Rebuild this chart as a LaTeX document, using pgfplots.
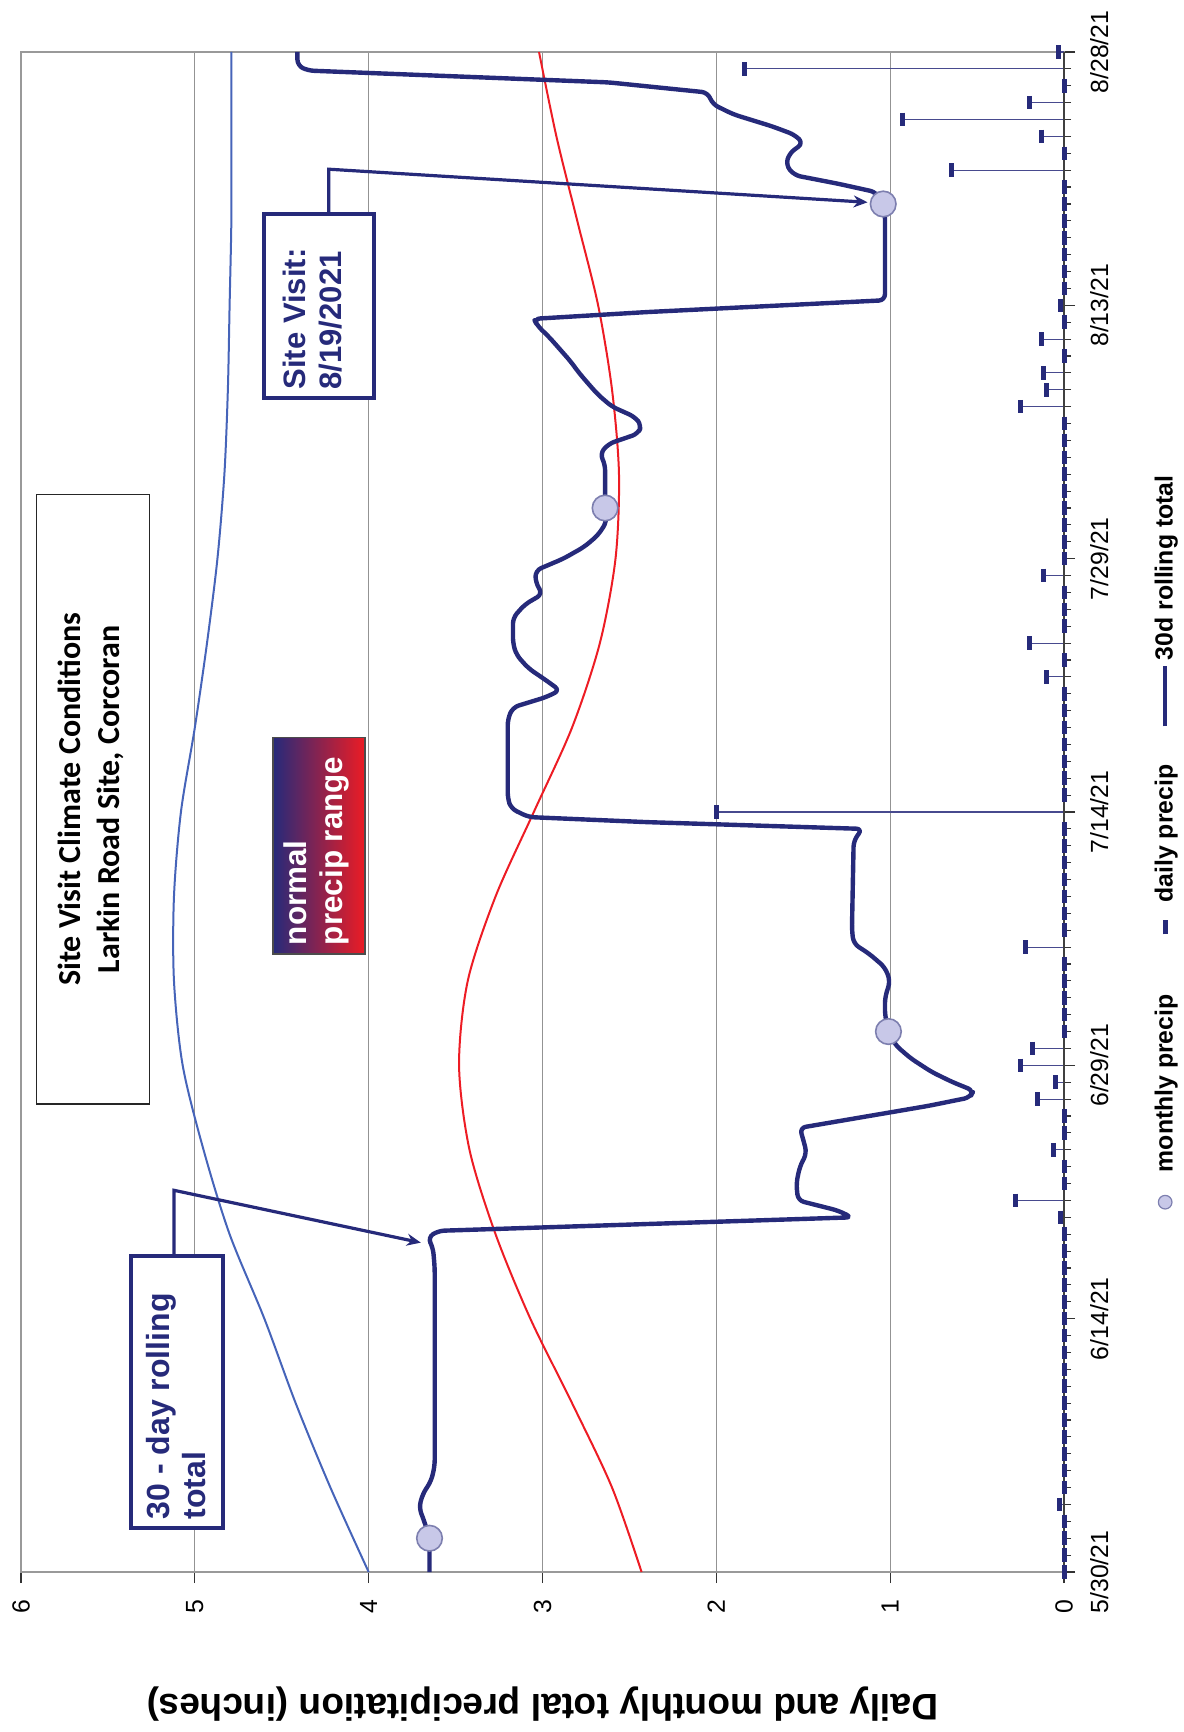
\documentclass[border=0pt]{standalone}
\usepackage{graphicx}
\usepackage{pgfplots}
\pgfplotsset{compat=1.18}
\usepackage{pgfplotstable}
\usetikzlibrary{arrows.meta}
\usepackage{fontspec}
\setmainfont{Liberation Sans}
\newfontfamily\carlito{Carlito}
\definecolor{navy}{RGB}{38,42,122}
\definecolor{redc}{RGB}{237,28,36}
\definecolor{bluec}{RGB}{70,100,185}
\definecolor{circfill}{RGB}{200,200,232}
\pgfplotsset{
  circleg/.style={legend image code/.code={\path[draw=none,fill=none] (0pt,0pt) -- (17pt,0pt);\draw[fill=circfill, draw=navy!60, line width=0.6pt] (4pt,0pt) circle (3.4pt);}},
  dashleg/.style={legend image code/.code={\path[draw=none,fill=none] (0pt,0pt) -- (26pt,0pt);\draw[navy, line width=2.5pt] (12pt,0pt) -- (19pt,0pt);}},
  lineleg/.style={legend image code/.code={\draw[navy, line width=2.2pt] (0pt,0pt) -- (30pt,0pt);}},
}

% daily precipitation (day after 5/30/21, inches)
\pgfplotstableread{
d v
0 0
1 0
2 0
3 0
4 0.025
5 0
6 0
7 0
8 0
9 0
10 0
11 0
12 0
13 0
14 0
15 0
16 0
17 0
18 0
19 0
20 0
21 0.02
22 0.28
23 0
24 0
25 0.06
26 0
27 0
28 0.15
29 0.05
30 0.25
31 0.18
32 0
33 0
34 0
35 0
36 0
37 0.22
38 0
39 0
40 0
41 0
42 0
43 0
44 0
45 2.0
46 0
47 0
48 0
49 0
50 0
51 0
52 0
53 0.10
54 0
55 0.20
56 0
57 0
58 0
59 0.12
60 0
61 0
62 0
63 0
64 0
65 0
66 0
67 0
68 0
69 0.25
70 0.10
71 0.12
72 0
73 0.13
74 0
75 0.02
76 0
77 0
78 0
79 0
80 0
81 0
82 0
83 0.65
84 0
85 0.13
86 0.93
87 0.20
88 0
89 1.84
90 0.03
}\daily

% 30 day rolling total
\pgfplotstableread{
d v
0 3.65
2 3.65
3 3.68
3.8 3.71
4.6 3.69
5.4 3.64
6.3 3.62
18 3.62
19.2 3.63
19.8 3.66
20.2 3.60
21.0 1.22
21.4 1.30
22 1.53
23 1.54
24 1.52
24.8 1.48
25.6 1.50
26.3 1.52
27.6 0.78
28.1 0.54
28.5 0.52
29.0 0.64
29.6 0.76
30.4 0.88
31.2 0.97
32 1.01
33 1.03
34 1.03
35 1.00
35.8 1.03
36.6 1.12
37.2 1.21
38 1.22
43.3 1.21
44.0 1.16
44.4 2.40
44.7 3.08
45.2 3.18
45.8 3.20
50.5 3.20
51.2 3.17
51.8 2.98
52.2 2.90
52.8 2.98
53.5 3.08
54.3 3.15
55 3.17
56.5 3.17
57.3 3.10
57.9 3.00
58.6 3.04
59.3 3.04
60 2.88
60.7 2.76
61.4 2.68
62.2 2.63
62.8 2.64
65.6 2.64
66.2 2.67
66.8 2.62
67.4 2.45
67.9 2.43
68.4 2.47
69 2.60
69.7 2.68
70.4 2.74
71 2.79
71.7 2.84
72.4 2.90
73.1 2.96
73.8 3.03
74.2 3.05
74.6 2.40
75.3 1.03
76 1.03
80.5 1.03
81 1.05
81.7 1.08
82.2 1.30
82.7 1.55
83.3 1.60
84 1.58
84.6 1.50
85.1 1.55
85.6 1.68
86.3 1.90
86.9 2.02
87.6 2.05
88.2 2.62
88.9 4.35
89.2 4.41
90 4.41
}\rolling

\pgfplotstableread{
d v
0 2.43
5 2.60
10 2.83
15 3.07
20 3.27
25 3.42
30 3.48
35 3.43
40 3.27
45 3.05
50 2.83
55 2.67
60 2.58
65 2.56
70 2.60
75 2.68
80 2.80
85 2.92
90 3.02
}\normlow

\pgfplotstableread{
d v
0 4.00
5 4.22
10 4.42
15 4.60
20 4.80
25 4.95
30 5.07
35 5.12
40 5.12
45 5.08
50 5.00
55 4.93
60 4.87
65 4.83
70 4.81
75 4.80
80 4.79
85 4.79
90 4.79
}\normhigh

\pgfplotstableread{
d v
2 3.65
32 1.01
63 2.64
81 1.04
}\monthly

\begin{document}
\rotatebox{90}{%
\begin{tikzpicture}
\begin{axis}[
  at={(0,0)}, anchor=south west,
  scale only axis, width=760pt, height=521.5pt,
  xmin=0, xmax=90, ymin=0, ymax=6,
  clip=false,
  /pgf/number format/assume math mode=true,
  axis line style={draw=gray!80, line width=0.8pt},
  xtick={0,15,30,45,60,75,90},
  xticklabels={5/30/21,6/14/21,6/29/21,7/14/21,7/29/21,8/13/21,8/28/21},
  minor xtick={0,1,...,90},
  ytick={0,1,...,6},
  xtick pos=lower, ytick pos=left,
  tick align=outside,
  major tick length=5.5pt, minor tick length=3.5pt,
  tick style={black!80, line width=0.6pt},
  ymajorgrids, major grid style={gray!85, line width=0.6pt},
  tick label style={font=\fontsize{12.4}{14}\selectfont},
  xticklabel style={yshift=-4pt},
  yticklabel style={xshift=-5pt},
  ylabel={Daily and monthly total precipitation (inches)},
  ylabel style={font=\bfseries\fontsize{18.5}{22}\selectfont, at={(axis description cs:-0.087,0.5)}, anchor=center},
  legend columns=3,
  legend cell align=left,
  legend style={draw=none, fill=none, at={(axis description cs:0.481,-0.097)}, anchor=center,
    font=\bfseries\fontsize{12.4}{14}\selectfont,
    /tikz/every even column/.append style={column sep=16pt}},
]
\addlegendimage{circleg}
\addlegendentry{monthly precip}
\addlegendimage{dashleg}
\addlegendentry{daily precip}
\addlegendimage{lineleg}
\addlegendentry{30d rolling total}

\addplot[redc, line width=1pt, smooth, forget plot] table[x=d, y=v] {\normlow};
\addplot[bluec, line width=1pt, smooth, forget plot] table[x=d, y=v] {\normhigh};
\addplot[navy!85, line width=0.6pt, ycomb, forget plot] table[x=d, y=v] {\daily};
\addplot[navy, line width=2.2pt, rounded corners=3pt, line join=round, forget plot] table[x=d, y=v] {\rolling};
\addplot[only marks, mark=-, mark size=3.4pt, mark options={line width=2.5pt, draw=navy}, forget plot] table[x=d, y=v] {\daily};
\addplot[only marks, mark=*, mark size=6.4pt, mark options={fill=circfill, draw=navy!60, line width=0.8pt}, forget plot] table[x=d, y=v] {\monthly};

\draw[black!75, line width=1pt] (rel axis cs:0,0) -- (rel axis cs:1,0);

% title box
\draw[black!85, line width=0.8pt, fill=white] (axis cs:27.7,5.26) rectangle (axis cs:63.8,5.91);
\node[align=center, font=\carlito\bfseries\fontsize{16}{19.5}\selectfont] at (axis cs:45.75,5.6) {Site Visit Climate Conditions\\Larkin Road Site, Corcoran};

% 30-day box
\draw[navy, line width=1.6pt, -{Stealth[length=7pt,width=6pt]}] (axis cs:18.7,5.12) -- (axis cs:22.6,5.12) -- (axis cs:19.5,3.70);
\draw[navy, line width=2pt, fill=white] (axis cs:2.6,4.84) rectangle (axis cs:18.7,5.37);
\node[anchor=west, align=left, text=navy, inner sep=0pt, font=\bfseries\fontsize{16}{18}\selectfont] at (axis cs:3.1,5.11) {30 - day rolling\\total};

% site visit box
\draw[navy, line width=1.6pt, -{Stealth[length=7pt,width=6pt]}] (axis cs:80.4,4.23) -- (axis cs:83.06,4.23) -- (axis cs:81.1,1.13);
\draw[navy, line width=2pt, fill=white] (axis cs:69.5,3.97) rectangle (axis cs:80.4,4.60);
\node[anchor=west, align=left, text=navy, inner sep=0pt, font=\bfseries\fontsize{15.5}{18}\selectfont] at (axis cs:70.0,4.32) {Site Visit:\\8/19/2021};

% normal precip range box
\shade[top color=navy, bottom color=redc] (axis cs:36.6,4.02) rectangle (axis cs:49.4,4.55);
\draw[black!70, line width=0.8pt] (axis cs:36.6,4.02) rectangle (axis cs:49.4,4.55);
\node[anchor=west, align=left, text=white, inner sep=0pt, font=\bfseries\fontsize{15.7}{18}\selectfont] at (axis cs:37.1,4.30) {normal\\precip range};
\end{axis}
\pgfresetboundingbox
\useasboundingbox (-80pt,-59.5pt) rectangle (786pt,532pt);
\end{tikzpicture}}
\end{document}
